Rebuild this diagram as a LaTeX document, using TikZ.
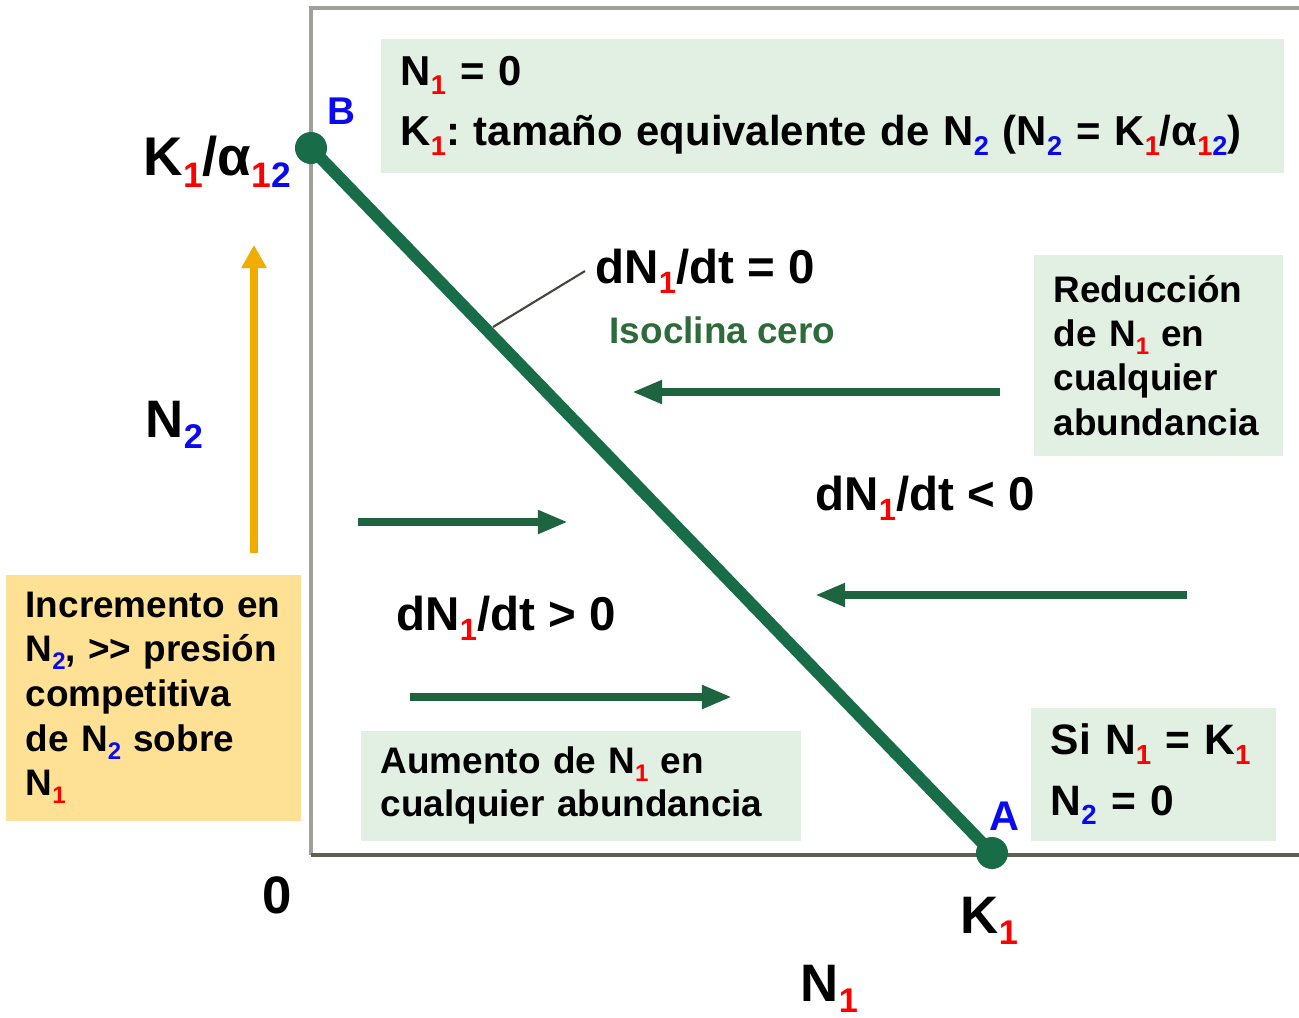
\documentclass[tikz,border=0pt]{standalone}
\usepackage{fontspec}
\setmainfont{Liberation Sans}
\usepackage{graphicx}
\usetikzlibrary{positioning,arrows.meta}
\definecolor{isogreen}{RGB}{24,108,72}
\definecolor{flowgreen}{RGB}{30,100,64}
\definecolor{isotext}{RGB}{46,107,58}
\definecolor{boxgreen}{RGB}{225,240,226}
\definecolor{boxorange}{RGB}{255,225,150}
\definecolor{arroworange}{RGB}{240,172,0}
\definecolor{axisgray}{RGB}{160,160,155}
\definecolor{axisdark}{RGB}{95,95,85}
\definecolor{leadgray}{RGB}{70,70,60}
\definecolor{subred}{RGB}{255,0,0}
\definecolor{subblue}{RGB}{10,10,240}
\newcommand{\subr}[1]{\raisebox{-0.22em}{\scalebox{0.65}{\textcolor{subred}{#1}}}}
\newcommand{\subb}[1]{\raisebox{-0.22em}{\scalebox{0.65}{\textcolor{subblue}{#1}}}}
\newcommand{\fs}[1]{\bfseries\fontsize{#1}{1.38\dimexpr#1pt\relax}\selectfont}
\frenchspacing
\begin{document}
\begin{tikzpicture}[x=0.01cm,y=-0.01cm,box/.style={fill=boxgreen,anchor=north west,align=left,inner xsep=0.2cm,inner ysep=0pt},lab/.style={anchor=base west,inner sep=0pt},flow/.style={draw=flowgreen,line width=2.3pt,-{Triangle[length=3mm,width=2.2mm]}},dot/.style={circle,fill=isogreen,minimum size=0.32cm,inner sep=0pt}]
\useasboundingbox[fill=white] (0,0) rectangle (1299,1017);
% ejes
\draw[axisgray,line width=1.2pt] (311,855) -- (311,8) -- (1299,8);
\draw[axisdark,line width=0.9pt] (311,855) -- (1299,855);
% cuadros
\node[box,text width=8.63cm,minimum height=1.34cm,font={\bfseries\fontsize{11.9}{17.1}\selectfont}] (cond) at (380,38) {N\subr{1} = 0\\K\subr{1}: tamaño equivalente de N\subb{2} (N\subb{2} = K\subr{1}/α\subr{1}\subb{2})};
\node[box,text width=2.09cm,minimum height=2.01cm,font={\bfseries\fontsize{10.5}{12.6}\selectfont}] (redu) at (1033,254) {Reducción\\de N\subr{1} en\\cualquier\\abundancia};
\node[box,text width=4.0cm,minimum height=1.10cm,font={\bfseries\fontsize{10.5}{12.2}\selectfont}] (aum) at (360,730) {Aumento de N\subr{1} en\\cualquier abundancia};
\node[box,text width=2.05cm,minimum height=1.33cm,font={\bfseries\fontsize{12.1}{17.1}\selectfont}] (si) at (1030,707) {Si N\subr{1} = K\subr{1}\\N\subb{2} = 0};
\node[box,fill=boxorange,text width=2.55cm,minimum height=2.46cm,font={\bfseries\fontsize{10.5}{12.7}\selectfont}] (incr) at (5,574) {Incremento en\\N\subb{2}, >{}> presión\\competitiva\\de N\subb{2} sobre\\N\subr{1}};
% isoclina
\node[dot] (ptB) at (311,148) {};
\node[dot] (ptA) at (992,853) {};
\draw[isogreen,line width=3.4pt] (ptB.center) -- (ptA.center);
\node[lab,text=subblue,font=\fs{11}] (lblB) at (327,124) {B};
\node[lab,text=subblue,font=\fs{11.8}] (lblA) at (989,830) {A};
% textos
\node[lab,font=\fs{13.5}] (dn0) at (595,283) {dN\subr{1}/dt = 0};
\node[lab,text=isotext,font=\fs{10.5}] (iso) at (609,343) {Isoclina cero};
\node[lab,font=\fs{13.5}] (dnneg) at (815,510) {dN\subr{1}/dt < 0};
\node[lab,font=\fs{13.5}] (dnpos) at (396,630) {dN\subr{1}/dt > 0};
\coordinate (onIso) at (493,327);
\draw[leadgray,line width=0.6pt] ([xshift=-0.1cm]dn0.west) -- (onIso);
% flechas
\foreach \ya/\xa/\xb [count=\i] in {392/1000/632,522/358/568,595/1187/815,697/410/732}
  \draw[flow] (\xa,\ya) coordinate (f\i s) -- (\xb,\ya) coordinate (f\i e);
\coordinate (incS) at (254,553);
\coordinate (incE) at (254,245);
\draw[arroworange,line width=2pt,-{Triangle[length=2.3mm,width=2.4mm]}] (incS) -- (incE);
% ejes: rotulos
\node[lab,font=\fs{15.5}] (kalpha) at (143,175) {K\subr{1}/α\subr{1}\subb{2}};
\node[lab,font=\fs{15}] (n2) at (145,437) {N\subb{2}};
\node[lab,font=\fs{15}] (zero) at (262,913) {0};
\node[lab,font=\fs{15}] (k1) at (960,933) {K\subr{1}};
\node[lab,font=\fs{15}] (n1) at (800,1001) {N\subr{1}};
\end{tikzpicture}
\end{document}
